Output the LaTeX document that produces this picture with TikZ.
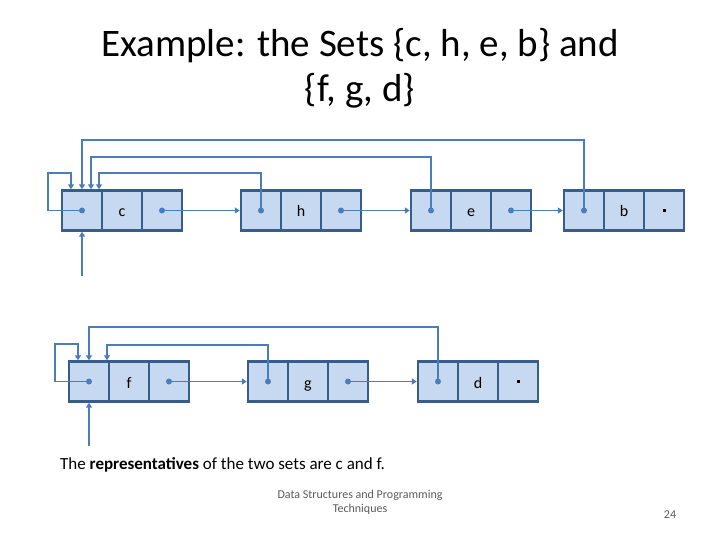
\documentclass[tikz,border=0pt]{standalone}
\usepackage{fontspec}
\setmainfont{Carlito}
\usetikzlibrary{arrows.meta}
\definecolor{cellfill}{RGB}{198,217,241}
\definecolor{cellborder}{RGB}{56,93,138}
\definecolor{linkcol}{RGB}{74,126,187}
\definecolor{footgray}{RGB}{90,90,90}
\tikzset{
  cell/.style={draw=cellborder, fill=cellfill, line width=2.4pt, minimum width=40pt, minimum height=40pt, inner sep=0pt, text height=13pt, text depth=0pt, font=\fontsize{16}{16}\selectfont},
  link/.style={draw=linkcol, line width=1.9pt, -{Triangle[width=6pt,length=5pt]}},
  ptr/.style={fill=linkcol, circle, inner sep=0pt, minimum size=6pt},
  nul/.style={fill=black, inner sep=0pt, minimum size=3pt},
}
\begin{document}
\begin{tikzpicture}[x=1pt,y=-1pt]
\useasboundingbox (0,0) rectangle (720,540);
% title
\node[anchor=base, font=\fontsize{39}{39}\selectfont] (t1) at (360,57) {Example: the Sets \{c, h, e, b\} and};
\node[anchor=base, font=\fontsize{39}{39}\selectfont] (t2) at (360,102) {\{f, g, d\}};
% top row
\node[cell] (c1) at (82,210.5) {};
\node[cell] (c2) at (122,210.5) {c};
\node[cell] (c3) at (162,210.5) {};
\node[cell] (h1) at (261,210.5) {};
\node[cell] (h2) at (301,210.5) {h};
\node[cell] (h3) at (341,210.5) {};
\node[cell] (e1) at (431,210.5) {};
\node[cell] (e2) at (471,210.5) {e};
\node[cell] (e3) at (511,210.5) {};
\node[cell] (b1) at (584,210.5) {};
\node[cell] (b2) at (624,210.5) {b};
\node[cell] (b3) at (664,210.5) {};
% bottom row
\node[cell] (f1) at (89,381.5) {};
\node[cell] (f2) at (129,381.5) {f};
\node[cell] (f3) at (169,381.5) {};
\node[cell] (g1) at (268,381.5) {};
\node[cell] (g2) at (308,381.5) {g};
\node[cell] (g3) at (348,381.5) {};
\node[cell] (d1) at (438,381.5) {};
\node[cell] (d2) at (478,381.5) {d};
\node[cell] (d3) at (518,381.5) {};
% next pointers
\draw[link] (c3.center) -- (h1.west);
\draw[link] (h3.center) -- (e1.west);
\draw[link] (e3.center) -- (b1.west);
\draw[link] (f3.center) -- (g1.west);
\draw[link] (g3.center) -- (d1.west);
% representative pointers, top
\draw[link] (c1.center) -| (48,173) -| ([xshift=-11pt]c1.north);
\draw[link] (b1.center) -- (b1.center |- 0,140) -| (c1.north);
\draw[link] (e1.center) -- (e1.center |- 0,157) -| ([xshift=9pt]c1.north);
\draw[link] (h1.center) -- (h1.center |- 0,173) -| ([xshift=17pt]c1.north);
% representative pointers, bottom
\draw[link] (f1.center) -| (55,344) -| ([xshift=-11pt]f1.north);
\draw[link] (d1.center) -- (d1.center |- 0,327) -| (f1.north);
\draw[link] (g1.center) -- (g1.center |- 0,345) -| ([xshift=18pt]f1.north);
% set handles
\coordinate (cin) at (82,276);
\coordinate (fin) at (89,446);
\draw[link] (cin) -- (c1.south);
\draw[link] (fin) -- (f1.south);
% dots
\foreach \n in {c1,c3,h1,h3,e1,e3,b1,f1,f3,g1,g3,d1}{\node[ptr] at (\n.center) {};}
\node[nul] at (b3.center) {};
\node[nul] at (d3.center) {};
% text
\node[anchor=base west, inner sep=0pt, font=\fontsize{17}{17}\selectfont] (rep) at (60,469) {The \textbf{representatives} of the two sets are c and f.};
\node[anchor=base, align=center, inner sep=0pt, text=footgray, font=\fontsize{12}{14}\selectfont] (foot) at (360,512) {Data Structures and Programming\\Techniques};
\node[anchor=base, inner sep=0pt, text=footgray, font=\fontsize{12}{12}\selectfont] (pg) at (670,518) {24};
\end{tikzpicture}
\end{document}
